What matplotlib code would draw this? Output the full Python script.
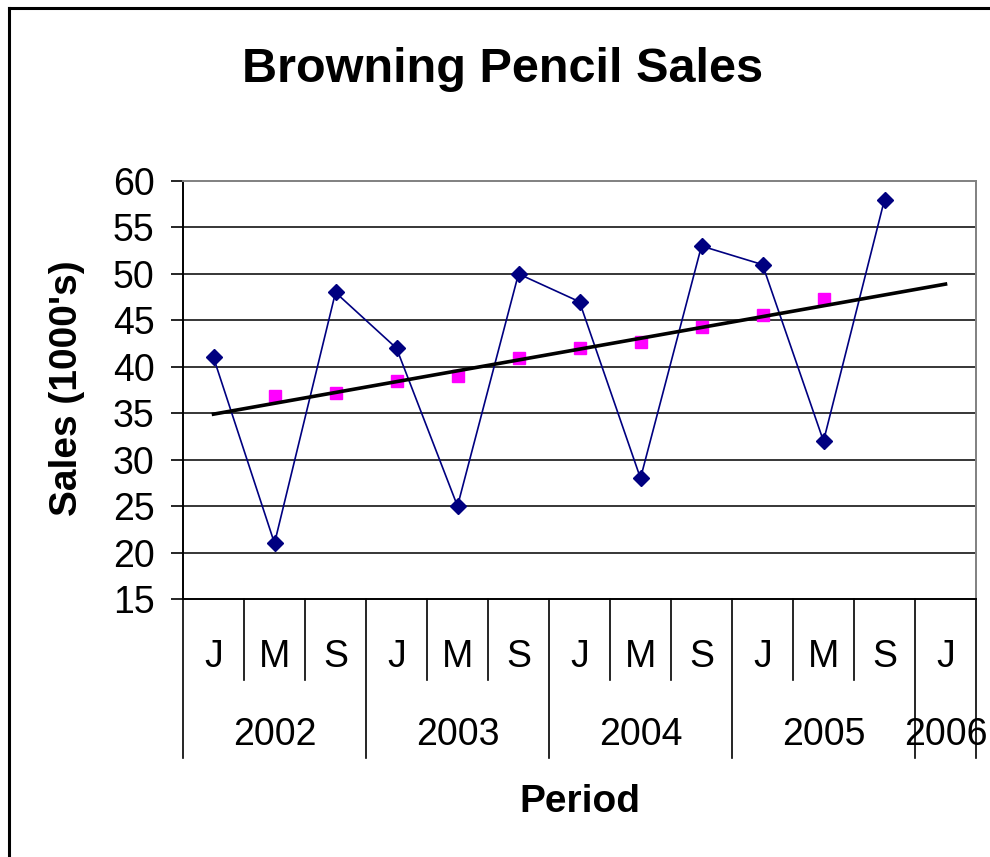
import matplotlib
matplotlib.use("Agg")
import matplotlib.pyplot as plt
from matplotlib.lines import Line2D
import matplotlib.transforms as mtransforms

plt.rcParams['font.family'] = ['Liberation Sans', 'DejaVu Sans']

# quarterly sales (thousands), Jan/May/Sep
months = ["J", "M", "S", "J", "M", "S", "J", "M", "S", "J", "M", "S", "J"]
years = ["2002", "2003", "2004", "2005", "2006"]
sales = [41, 21, 48, 42, 25, 50, 47, 28, 53, 51, 32, 58]
# moving average, starts at the second period
moving_avg = [36.9, 37.2, 38.5, 39.0, 40.9, 42.0, 42.7, 44.3, 45.6, 47.3]
trend_ends = [34.9, 48.9]

W, H = 990, 857
fig = plt.figure(figsize=(W / 100, H / 100), dpi=100)
fig.patch.set_facecolor("white")

# plot area in pixels
left, right, top, bottom = 183, 976, 181, 599
ax = fig.add_axes([left / W, 1 - bottom / H, (right - left) / W, (bottom - top) / H])

n = len(months)
ax.set_xlim(0, n)
ax.set_ylim(15, 60)

for y in range(20, 60, 5):
    ax.axhline(y, color="black", lw=1.1, zorder=1)

xs = [i + 0.5 for i in range(len(sales))]
ax.plot(xs, sales, color="#000080", lw=1.2, marker="D", markersize=8,
        markerfacecolor="#000080", markeredgecolor="#000080", zorder=3, clip_on=False)

xs_ma = [i + 1.5 for i in range(len(moving_avg))]
ax.plot(xs_ma, moving_avg, ls="none", marker="s", markersize=8.5,
        color="#FF00FF", zorder=2)

ax.plot([0.5, n - 0.5], trend_ends, color="black", lw=2.6, zorder=4)

ax.set_yticks(range(15, 61, 5))
ax.tick_params(axis="y", length=8.6, width=1.2, labelsize=27, pad=12, direction="out")
ax.set_xticks([])

for side in ["left", "bottom"]:
    ax.spines[side].set_color("black")
    ax.spines[side].set_linewidth(1.4)
for side in ["top", "right"]:
    ax.spines[side].set_color("#808080")
    ax.spines[side].set_linewidth(1.4)

# category axis: separators and two-level labels
trans = mtransforms.blended_transform_factory(ax.transData, ax.transAxes)
ph = bottom - top
short_end = -(680 - bottom) / ph
long_end = -(758 - bottom) / ph
for i in range(n + 1):
    end = long_end if (i % 3 == 0 or i == n) else short_end
    ax.plot([i, i], [0, end], color="black", lw=1.2, transform=trans, clip_on=False)

for i, m in enumerate(months):
    ax.text(i + 0.5, -(657 - bottom) / ph, m, transform=trans, ha="center",
            va="center", fontsize=27)
for k, yr in enumerate(years):
    xc = k * 3 + 1.5 if k < 4 else n - 0.5
    ax.text(xc, -(735 - bottom) / ph, yr, transform=trans, ha="center",
            va="center", fontsize=27)

fig.text(503 / W, 1 - 70 / H, "Browning Pencil Sales", ha="center", va="center",
         fontsize=35, fontweight="bold")
fig.text(67 / W, 1 - 388 / H, "Sales (1000's)", ha="center", va="center",
         rotation=90, fontsize=28, fontweight="bold")
fig.text(580 / W, 1 - 802 / H, "Period", ha="center", va="center",
         fontsize=28, fontweight="bold")

# chart frame
fig.add_artist(Line2D([9 / W, 9 / W], [1 - 8 / H, 0], color="black", lw=2.2,
                      transform=fig.transFigure))
fig.add_artist(Line2D([9 / W, 1], [1 - 8 / H, 1 - 8 / H], color="black", lw=2.2,
                      transform=fig.transFigure))

fig.savefig("out.png", dpi=100)
